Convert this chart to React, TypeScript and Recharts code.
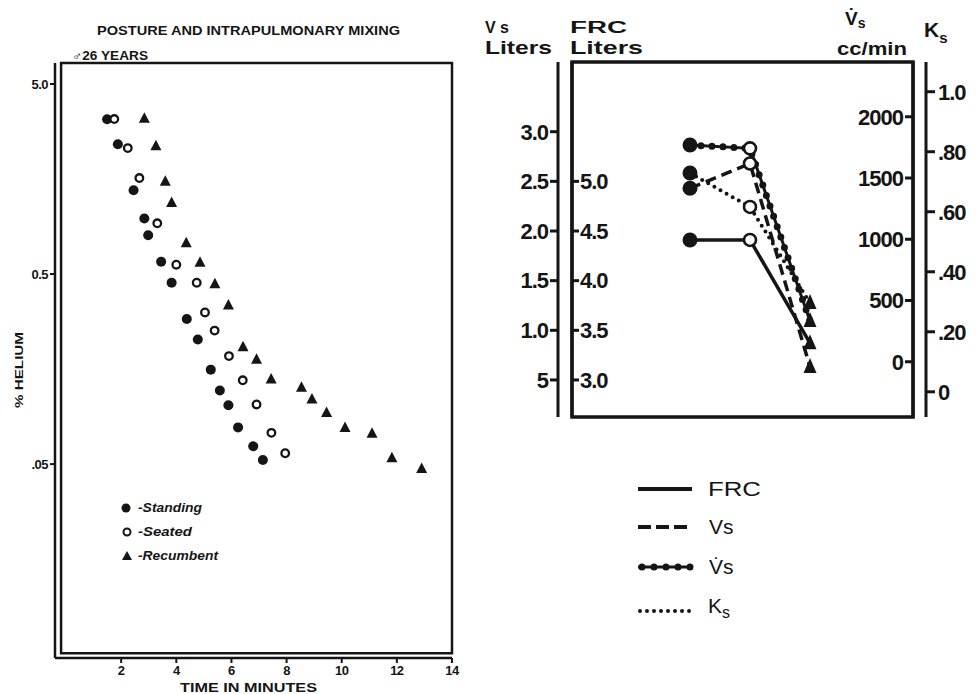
import React from 'react'
import { ScatterChart, Scatter, LineChart, Line, XAxis, YAxis, ReferenceArea } from 'recharts'

const INK = '#151515'
const FONT = '"Liberation Sans", Arial, sans-serif'

// left panel: % helium against time, one list per posture
const standingTime = [1.49, 1.88, 2.45, 2.84, 2.98, 3.45, 3.83, 4.38, 4.78, 5.25, 5.58, 5.89, 6.24, 6.79, 7.14]
const standingHelium = [3.26, 2.41, 1.38, 0.98, 0.8, 0.58, 0.45, 0.29, 0.226, 0.157, 0.122, 0.102, 0.078, 0.062, 0.0525]
const seatedTime = [1.75, 2.24, 2.66, 3.31, 4.0, 4.74, 5.04, 5.39, 5.91, 6.41, 6.91, 7.45, 7.95]
const seatedHelium = [3.27, 2.3, 1.6, 0.925, 0.56, 0.45, 0.314, 0.252, 0.185, 0.138, 0.103, 0.073, 0.057]
const recumbentTime = [2.84, 3.26, 3.6, 3.83, 4.36, 4.86, 5.4, 5.89, 6.42, 6.91, 7.44, 8.54, 8.92, 9.45, 10.12, 11.1, 11.82, 12.9]
const recumbentHelium = [3.3, 2.37, 1.54, 1.19, 0.73, 0.577, 0.445, 0.344, 0.207, 0.178, 0.14, 0.127, 0.11, 0.0935, 0.078, 0.0726, 0.054, 0.0474]
const timeTicks = [2, 4, 6, 8, 10, 12, 14]
const heliumTicks = [5, 0.5, 0.05]
const heliumTickLabels: Record<number, string> = { 5: '5.0', 0.5: '0.5', 0.05: '.05' }

// right panel: one value per posture for each measure
const postures = ['Standing', 'Seated', 'Recumbent']
const frcLiters = [4.41, 4.41, 3.37]
const vsLiters = [2.43, 2.68, 0.63]
const vsDotCcMin = [1769, 1742, 332]
const ksValues = [0.729, 0.616, 0.296]
const vsTicks = [0.5, 1, 1.5, 2, 2.5, 3]
const vsTickLabels = ['5', '1.0', '1.5', '2.0', '2.5', '3.0']
const frcTicks = [3, 3.5, 4, 4.5, 5]
const ccTicks = [0, 500, 1000, 1500, 2000]
const ksTicks = [0, 0.2, 0.4, 0.6, 0.8, 1]
const ksTickLabels = ['0', '.20', '.40', '.60', '.80', '1.0']

const toPoints = (t: number[], h: number[]) => t.map((x, i) => ({ t: x, he: h[i] }))
const rightData = postures.map((p, i) => ({
  pos: i,
  posture: p,
  frc: frcLiters[i],
  vs: vsLiters[i],
  vsDot: vsDotCcMin[i],
  ks: ksValues[i],
}))

const standingShape = (p: any) => <circle cx={p.cx} cy={p.cy} r={5} fill={INK} />
const seatedShape = (p: any) => (
  <circle cx={p.cx} cy={p.cy} r={3.8} fill="#fff" stroke={INK} strokeWidth={2.3} />
)
const recumbentShape = (p: any) => (
  <path d={`M${p.cx},${p.cy - 6}L${p.cx + 5.5},${p.cy + 4.5}L${p.cx - 5.5},${p.cy + 4.5}Z`} fill={INK} />
)

const postureDot = (p: any) => {
  const { cx, cy, index } = p
  const k = `${p.dataKey}-${index}`
  if (index === 0) return <circle key={k} cx={cx} cy={cy} r={7.5} fill={INK} />
  if (index === 1)
    return <circle key={k} cx={cx} cy={cy} r={6} fill="#fff" stroke={INK} strokeWidth={2.6} />
  return <path key={k} d={`M${cx},${cy - 9}L${cx + 6.5},${cy + 6}L${cx - 6.5},${cy + 6}Z`} fill={INK} />
}

const smallTick = { fill: INK, fontSize: 13, fontWeight: 700, fontFamily: FONT, letterSpacing: -0.5 }
const bigTick = { fill: INK, fontSize: 22, fontWeight: 700, fontFamily: FONT, letterSpacing: -1 }
const heavyLine = { stroke: INK, strokeWidth: 3 }

function HeliumChart() {
  return (
    <ScatterChart width={470} height={694} margin={{ top: 63, right: 18, bottom: 6, left: 0 }}>
      <XAxis
        type="number"
        dataKey="t"
        domain={[-0.4, 14]}
        ticks={timeTicks}
        allowDataOverflow
        height={30}
        tickSize={5}
        tickMargin={3}
        tick={smallTick}
        axisLine={{ stroke: INK, strokeWidth: 2.5 }}
        tickLine={{ stroke: INK, strokeWidth: 2 }}
      />
      <YAxis
        type="number"
        dataKey="he"
        scale="log"
        domain={[0.00477, 6.45]}
        ticks={heliumTicks}
        allowDataOverflow
        width={55}
        tickSize={5}
        tickMargin={2}
        tick={smallTick}
        tickFormatter={(v: number) => heliumTickLabels[v] ?? String(v)}
        axisLine={{ stroke: INK, strokeWidth: 2.5 }}
        tickLine={{ stroke: INK, strokeWidth: 2 }}
      />
      <ReferenceArea x1={-0.18} x2={14} y1={0.00506} y2={6.45} fill="none" stroke={INK} strokeWidth={2.5} />
      <Scatter name="Standing" data={toPoints(standingTime, standingHelium)} shape={standingShape} isAnimationActive={false} />
      <Scatter name="Seated" data={toPoints(seatedTime, seatedHelium)} shape={seatedShape} isAnimationActive={false} />
      <Scatter name="Recumbent" data={toPoints(recumbentTime, recumbentHelium)} shape={recumbentShape} isAnimationActive={false} />
    </ScatterChart>
  )
}

function VolumesChart() {
  return (
    <LineChart width={507} height={694} data={rightData} margin={{ top: 62, right: 1, bottom: 277, left: 40 }}>
      <XAxis type="number" dataKey="pos" domain={[-2.2, 3.933]} allowDataOverflow hide />
      {/* numeric ids keep the axes stacked in this order */}
      <YAxis
        yAxisId={1}
        orientation="left"
        domain={[0.127, 3.702]}
        ticks={vsTicks}
        allowDataOverflow
        width={48}
        tickSize={8}
        tickMargin={2}
        tick={bigTick}
        tickFormatter={(v: number) => vsTickLabels[vsTicks.indexOf(v)]}
        axisLine={heavyLine}
        tickLine={heavyLine}
      />
      <YAxis yAxisId={2} orientation="left" mirror width={14} domain={[0, 1]} tick={false} axisLine={false} tickLine={false} />
      <YAxis
        yAxisId={3}
        orientation="left"
        mirror
        domain={[2.627, 6.202]}
        ticks={frcTicks}
        allowDataOverflow
        width={60}
        tickSize={7}
        tickMargin={1}
        tick={bigTick}
        tickFormatter={(v: number) => v.toFixed(1)}
        axisLine={heavyLine}
        tickLine={heavyLine}
      />
      <YAxis yAxisId={4} orientation="right" mirror width={13} domain={[0, 1]} tick={false} axisLine={false} tickLine={false} />
      <YAxis
        yAxisId={5}
        orientation="right"
        mirror
        domain={[-451, 2447]}
        ticks={ccTicks}
        allowDataOverflow
        width={70}
        tickSize={8}
        tickMargin={2}
        tick={bigTick}
        axisLine={heavyLine}
        tickLine={heavyLine}
      />
      <YAxis
        yAxisId={6}
        orientation="right"
        domain={[-0.084, 1.099]}
        ticks={ksTicks}
        allowDataOverflow
        width={50}
        tickSize={9}
        tickMargin={3}
        tick={bigTick}
        tickFormatter={(v: number) => ksTickLabels[ksTicks.indexOf(v)]}
        axisLine={heavyLine}
        tickLine={heavyLine}
      />
      <ReferenceArea yAxisId={1} x1={-1.967} x2={3.717} y1={0.127} y2={3.702} fill="none" stroke={INK} strokeWidth={3.5} />
      <Line yAxisId={5} dataKey="vsDot" stroke={INK} strokeWidth={7} strokeDasharray="0 11" strokeLinecap="round" dot={false} isAnimationActive={false} />
      <Line yAxisId={6} dataKey="ks" stroke={INK} strokeWidth={4} strokeDasharray="0 7" strokeLinecap="round" dot={postureDot} isAnimationActive={false} />
      <Line yAxisId={1} dataKey="vs" stroke={INK} strokeWidth={3.5} strokeDasharray="11 6" dot={postureDot} isAnimationActive={false} />
      <Line yAxisId={3} dataKey="frc" stroke={INK} strokeWidth={3.5} dot={postureDot} isAnimationActive={false} />
      <Line yAxisId={5} dataKey="vsDot" stroke={INK} strokeWidth={3} dot={postureDot} isAnimationActive={false} />
    </LineChart>
  )
}

function Annotations() {
  const b = { fontFamily: FONT, fontWeight: 700, fill: INK } as const
  return (
    <svg width={977} height={694} style={{ position: 'absolute', left: 0, top: 0, pointerEvents: 'none' }}>
      <text x={97} y={35} fontSize={12} textLength={303} lengthAdjust="spacingAndGlyphs" {...b}>
        POSTURE  AND  INTRAPULMONARY MIXING
      </text>
      <text x={72} y={60} fontSize={12} textLength={76} lengthAdjust="spacingAndGlyphs" {...b}>
        ♂26 YEARS
      </text>
      <text x={0} y={0} fontSize={11} textLength={76} lengthAdjust="spacingAndGlyphs" transform="translate(23,408) rotate(-90)" {...b}>
        % HELIUM
      </text>
      <text x={180} y={692} fontSize={12} textLength={137} lengthAdjust="spacingAndGlyphs" {...b}>
        TIME IN MINUTES
      </text>

      {/* posture key, left panel */}
      <circle cx={126} cy={508} r={4.5} fill={INK} />
      <text x={138} y={512} fontSize={12} fontStyle="italic" textLength={64} lengthAdjust="spacingAndGlyphs" {...b}>-Standing</text>
      <circle cx={127} cy={532} r={3.5} fill="#fff" stroke={INK} strokeWidth={2} />
      <text x={138} y={536} fontSize={12} fontStyle="italic" textLength={54} lengthAdjust="spacingAndGlyphs" {...b}>-Seated</text>
      <path d="M127,551L132,560L122,560Z" fill={INK} />
      <text x={138} y={560} fontSize={12} fontStyle="italic" textLength={80} lengthAdjust="spacingAndGlyphs" {...b}>-Recumbent</text>

      {/* right panel axis headings */}
      <text x={485} y={33} fontSize={16} {...b}>V s</text>
      <text x={485} y={54} fontSize={19} textLength={67} lengthAdjust="spacingAndGlyphs" {...b}>Liters</text>
      <text x={570} y={33} fontSize={16} textLength={57} lengthAdjust="spacingAndGlyphs" {...b}>FRC</text>
      <text x={570} y={54} fontSize={19} textLength={73} lengthAdjust="spacingAndGlyphs" {...b}>Liters</text>
      <text x={845} y={25} fontSize={19} {...b}>V̇<tspan fontSize={14} dy={3}>s</tspan></text>
      <text x={837} y={55} fontSize={19} textLength={70} lengthAdjust="spacingAndGlyphs" {...b}>cc/min</text>
      <text x={924} y={37} fontSize={21} {...b}>K<tspan fontSize={15} dy={6}>s</tspan></text>

      {/* line key, right panel */}
      <line x1={638} y1={489} x2={692} y2={489} stroke={INK} strokeWidth={4} />
      <text x={708} y={496} fontSize={21} textLength={53} lengthAdjust="spacingAndGlyphs" fontFamily={FONT} fill={INK}>FRC</text>
      <line x1={638} y1={527} x2={692} y2={527} stroke={INK} strokeWidth={4} strokeDasharray="13 5" />
      <text x={709} y={534} fontSize={21} fontFamily={FONT} fill={INK}>Vs</text>
      <line x1={638} y1={567} x2={692} y2={567} stroke={INK} strokeWidth={3} />
      <line x1={642} y1={567} x2={692} y2={567} stroke={INK} strokeWidth={7} strokeDasharray="0 12" strokeLinecap="round" />
      <text x={709} y={574} fontSize={21} fontFamily={FONT} fill={INK}>V̇s</text>
      <line x1={640} y1={611} x2={692} y2={611} stroke={INK} strokeWidth={4} strokeDasharray="0 7" strokeLinecap="round" />
      <text x={708} y={613} fontSize={21} fontFamily={FONT} fill={INK}>K<tspan fontSize={16} dy={5}>s</tspan></text>
    </svg>
  )
}

export default function App() {
  return (
    <div style={{ position: 'absolute', left: 0, top: 0, width: 977, height: 694, background: '#fff', overflow: 'hidden' }}>
      <div style={{ position: 'absolute', left: 0, top: 0 }}>
        <HeliumChart />
      </div>
      <div style={{ position: 'absolute', left: 470, top: 0 }}>
        <VolumesChart />
      </div>
      <Annotations />
    </div>
  )
}
